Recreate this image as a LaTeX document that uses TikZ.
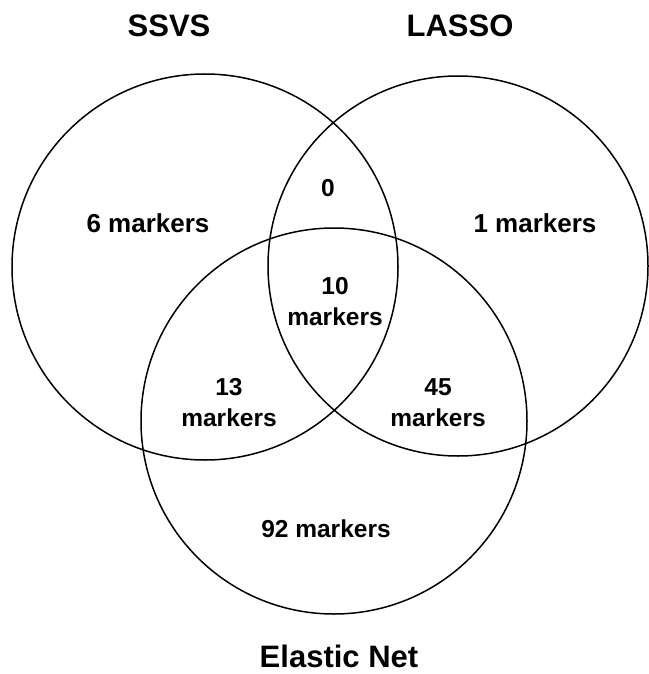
\documentclass[tikz,border=0pt]{standalone}
\usepackage{fontspec}
\setmainfont{Liberation Sans}
\begin{document}
\begin{tikzpicture}[x=1pt,y=-1pt,
  setcircle/.style={draw=black,line width=1.5pt},
  title/.style={font=\bfseries\fontsize{31}{36}\selectfont,inner sep=0pt,anchor=base},
  biglabel/.style={font=\bfseries\fontsize{26}{31}\selectfont,inner sep=0pt,anchor=base},
  count/.style={font=\bfseries\fontsize{24.5}{31}\selectfont,inner sep=0pt,align=center}]
\useasboundingbox (0,0) rectangle (648,674);

% centres of the three sets
\coordinate (ssvs)    at (205,267);
\coordinate (lasso)   at (458,266);
\coordinate (elastic) at (334,421);

\draw[setcircle] (ssvs) circle[radius=193];
\draw[setcircle] (lasso) circle[radius=190];
\draw[setcircle] (elastic) circle[radius=193];

% set names
\node[title] (tssvs)  at (169,37)  {SSVS};
\node[title] (tlasso) at (460,37)  {LASSO};
\node[title] (tnet)   at (339,667) {Elastic Net};

% region counts
\node[biglabel] (only1) at (148,232) {6 markers};
\node[biglabel] (only2) at (535,232) {1 markers};
\node[count,anchor=base] (r12) at (328,196) {0};
\node[count] (r123) at (335,302) {10\\markers};
\node[count] (r13)  at (229,403) {13\\markers};
\node[count] (r23)  at (438,403) {45\\markers};
\node[count,anchor=base] (only3) at (326,537) {92 markers};
\end{tikzpicture}
\end{document}
